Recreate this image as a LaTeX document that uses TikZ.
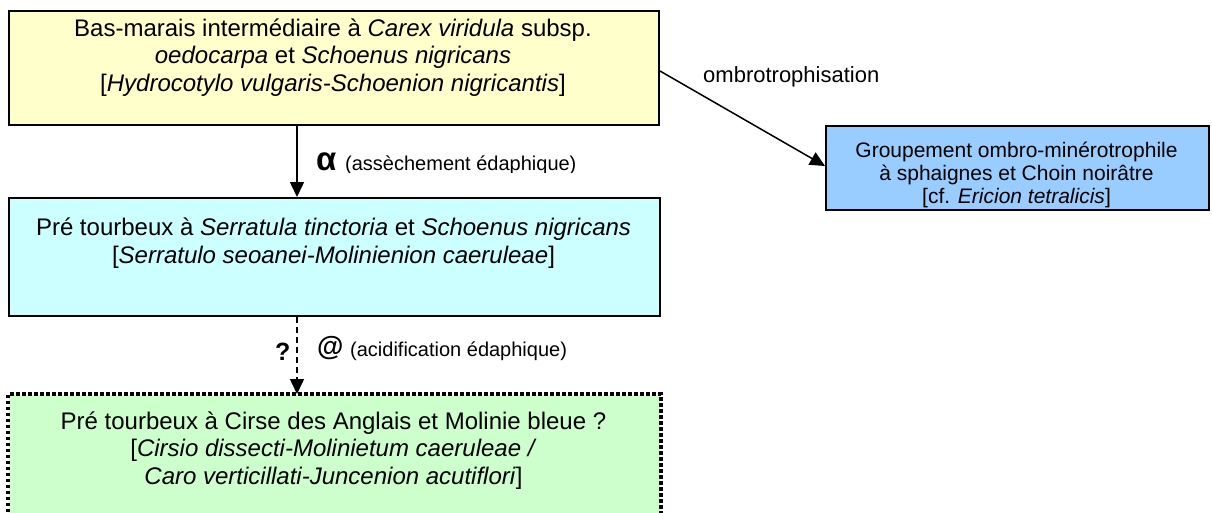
\documentclass[tikz,border=0pt]{standalone}
\usepackage{fontspec}
\setmainfont{Liberation Sans}
\usetikzlibrary{arrows.meta}
\definecolor{cyellow}{HTML}{FFFFCC}
\definecolor{ccyan}{HTML}{CCFFFF}
\definecolor{cgreen}{HTML}{CCFFCC}
\definecolor{cblue}{HTML}{99CCFF}
\tikzset{
  boxbase/.style={draw=black, line width=2pt, inner sep=0pt, anchor=north west},
  maintext/.style={align=center, inner sep=0pt, anchor=base, font=\fontsize{24}{27.5}\selectfont},
  bluetext/.style={align=center, inner sep=0pt, anchor=base, font=\fontsize{21}{23}\selectfont},
  lbl/.style={inner sep=0pt, anchor=base west, font=\fontsize{20}{24}\selectfont},
  arr/.style={line width=1.5pt, -{Triangle[length=15pt,width=14pt]}},
  dashline/.style={dash pattern=on 6pt off 4pt},
  dotborder/.style={dash pattern=on 3.5pt off 2.5pt, line width=3.5pt}
}
\begin{document}
\begin{tikzpicture}[x=1pt,y=-1pt]
\path[use as bounding box, fill=white] (0,0) rectangle (1212,512);
\clip (0,0) rectangle (1212,512);

% boxes
\node[boxbase, fill=cyellow, minimum width=650pt, minimum height=114pt] (yellow) at (8,10) {};
\node[boxbase, fill=ccyan, minimum width=651pt, minimum height=118pt] (cyan) at (8,197) {};
\node[boxbase, fill=cblue, minimum width=383pt, minimum height=84pt] (blue) at (825,125) {};
\node[boxbase, fill=cgreen, draw=none, minimum width=651pt, minimum height=140pt] (green) at (8,394) {};
\draw[dotborder] (green.south west) -- (green.north west) -- (green.north east) -- (green.south east);

% texts (anchor = baseline of last line)
\node[maintext] (yellowtext) at (333,91) {Bas-marais intermédiaire à \textit{Carex viridula} subsp.\\ \textit{oedocarpa} et \textit{Schoenus nigricans}\\{[}\textit{Hydrocotylo vulgaris-Schoenion nigricantis}{]}};
\node[maintext] (cyantext) at (333.5,263) {Pré tourbeux à \textit{Serratula tinctoria} et \textit{Schoenus nigricans}\\{[}\textit{Serratulo seoanei-Molinienion caeruleae}{]}};
\node[maintext] (greentext) at (333.5,484) {Pré tourbeux à Cirse des Anglais et Molinie bleue ?\\{[}\textit{Cirsio dissecti-Molinietum caeruleae /}\\\textit{Caro verticillati-Juncenion acutiflori}{]}};
\node[bluetext] (bluetext) at (1016.5,203) {Groupement ombro-minérotrophile\\à sphaignes et Choin noirâtre\\{[}cf. \textit{Ericion tetralicis}{]}};

% connectors
\coordinate (ax) at (297,0);
\draw[arr] (yellow.south -| ax) -- (cyan.north -| ax);
\draw[arr, dashline] (cyan.south -| ax) -- (green.north -| ax);
\draw[arr] ([yshift=-3pt]yellow.east) -- ([yshift=2pt]blue.west);

% connector labels
\node[lbl, font=\bfseries\fontsize{33}{33}\selectfont] (alpha) at (316,170) {α};
\begin{scope}
\clip (340,120) rectangle (640,172);
\node[lbl] (assech) at (345,170) {(assèchement édaphique)};
\end{scope}
\node[lbl, font=\fontsize{22}{26}\selectfont] (ombro) at (703,82) {ombrotrophisation};
\node[lbl, font=\bfseries\fontsize{25}{25}\selectfont] (qmark) at (275,360) {?};
\node[lbl, font=\bfseries\fontsize{27}{27}\selectfont] (at) at (317,355) {@};
\node[lbl] (acid) at (350,356) {(acidification édaphique)};
\end{tikzpicture}
\end{document}
